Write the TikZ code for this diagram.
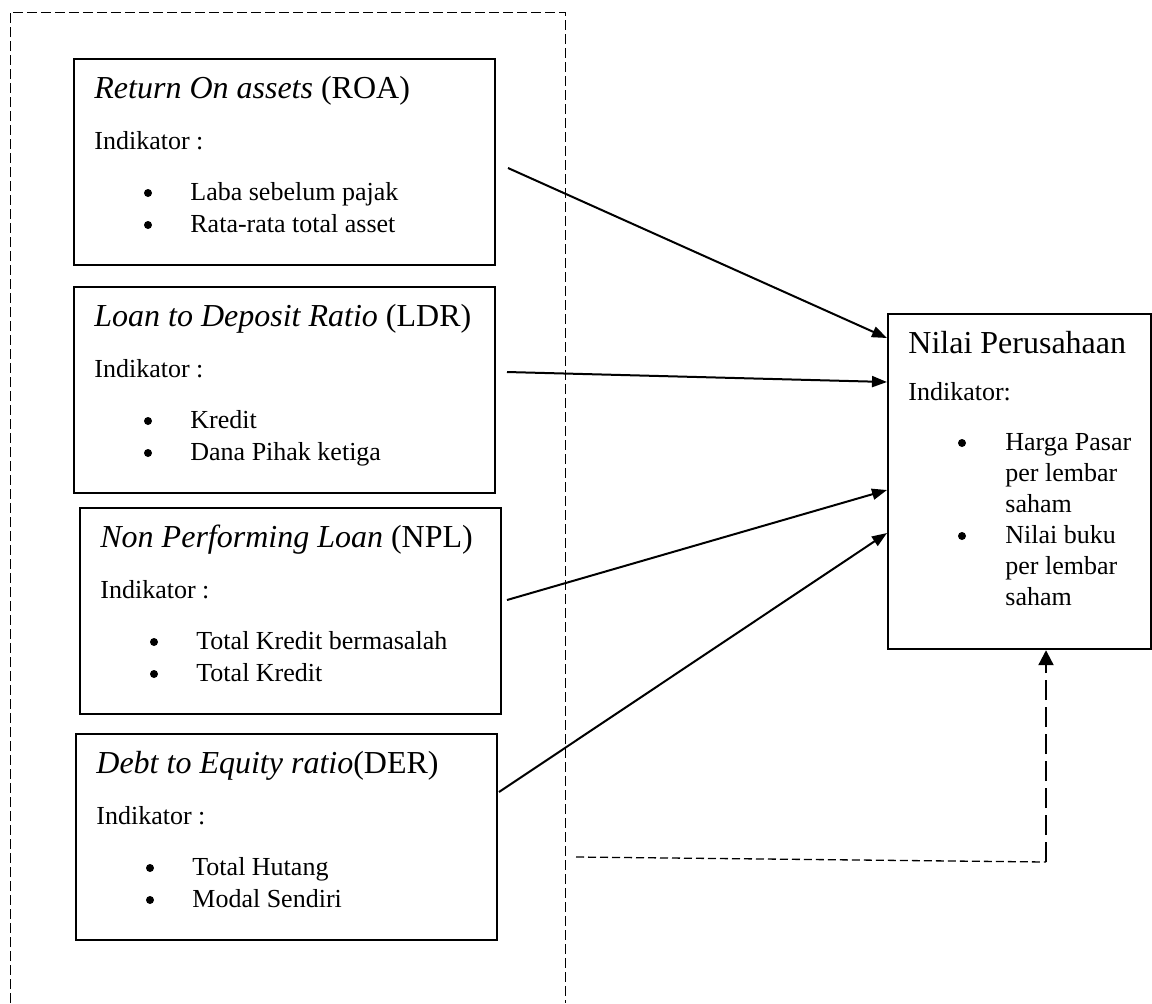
\documentclass[tikz,border=0pt]{standalone}
\usepackage{fontspec}
\setmainfont{Liberation Serif}
\usetikzlibrary{arrows.meta}

\begin{document}
\begin{tikzpicture}[x=0.5pt,y=-0.5pt,
		box/.style={draw,line width=1.1pt,anchor=north west,inner sep=0pt},
		txt/.style={anchor=base west,inner sep=0pt,font=\fontsize{13}{15}\selectfont},
		ttl/.style={anchor=base west,inner sep=0pt,font=\fontsize{16}{19}\selectfont},
		dot/.style={circle,fill,inner sep=0pt,minimum size=4pt},
		link/.style={line width=1pt,-{Triangle[length=7.5pt,width=5.5pt]}},
		frame/.style={line width=0.5pt,dash pattern=on 5pt off 2pt},
		fbline/.style={line width=0.65pt,dash pattern=on 4pt off 2pt},
		fbarrow/.style={line width=1.1pt,dash pattern=on 10pt off 3.5pt,-{Triangle[length=7.5pt,width=7.5pt]}}]
		\useasboundingbox (0,0) rectangle (1152,1003);
		
		% the dashed frame round the ratios
		\draw[frame] (10,1003) -- (10,12) -- (565,12) -- (565,1003);
		
		% the four ratio boxes
		\foreach \nm/\x/\y/\ttl/\ia/\ib in {
			roa/73/58/{\textit{Return On assets} (ROA)}/{Laba sebelum pajak}/{Rata-rata total asset},
			ldr/73/286/{\textit{Loan to Deposit Ratio} (LDR)}/{Kredit}/{Dana Pihak ketiga},
			npl/79/507/{\textit{Non Performing Loan} (NPL)}/{Total Kredit bermasalah}/{Total Kredit},
			der/75/733/{\textit{Debt to Equity ratio}(DER)}/{Total Hutang}/{Modal Sendiri}}
		{
			\node[box,minimum width=210.5pt,minimum height=103pt] (\nm) at (\x,\y) {};
			\node[ttl] (\nm-t) at (\x+21,\y+40) {\ttl};
			\node[txt] (\nm-ind) at (\x+21,\y+91) {Indikator :};
			\node[dot] (\nm-b1) at (\x+75,\y+135) {};
			\node[dot] (\nm-b2) at (\x+75,\y+167) {};
			\node[txt] (\nm-i1) at (\x+117,\y+142) {\ia};
			\node[txt] (\nm-i2) at (\x+117,\y+174) {\ib};
		}
		
		% the firm value box
		\node[box,minimum width=131.5pt,minimum height=167.5pt] (nilai) at (887,313) {};
		\node[ttl] (nilai-t) at (908,353) {Nilai Perusahaan};
		\node[txt] (nilai-ind) at (908,400) {Indikator:};
		\node[dot] (nilai-b1) at (962,443) {};
		\node[dot] (nilai-b2) at (962,536) {};
		\foreach \n/\yy/\texto in {1/450/Harga Pasar,2/481/per lembar,3/512/saham,4/543/Nilai buku,5/574/per lembar,6/605/saham}
			\node[txt] (nilai-l\n) at (1005,\yy) {\texto};
		
		% arrows into the firm value
		\foreach \nm/\ox/\oy/\iy in {roa/508/168/338,ldr/507/372/382,npl/507/600/490,der/499/792/533}
		{
			\coordinate (\nm-out) at (\ox,\oy);
			\draw[link] (\nm-out) -- (nilai.west |- 0,\iy);
		}
		
		% the dashed path from the frame
		\coordinate (fb-out) at (576,857);
		\coordinate (fb-turn) at (1046,862);
		\draw[fbline] (fb-out) -- (fb-turn);
		\draw[fbarrow] (fb-turn) -- (nilai.south -| fb-turn);
	\end{tikzpicture}
\end{document}
